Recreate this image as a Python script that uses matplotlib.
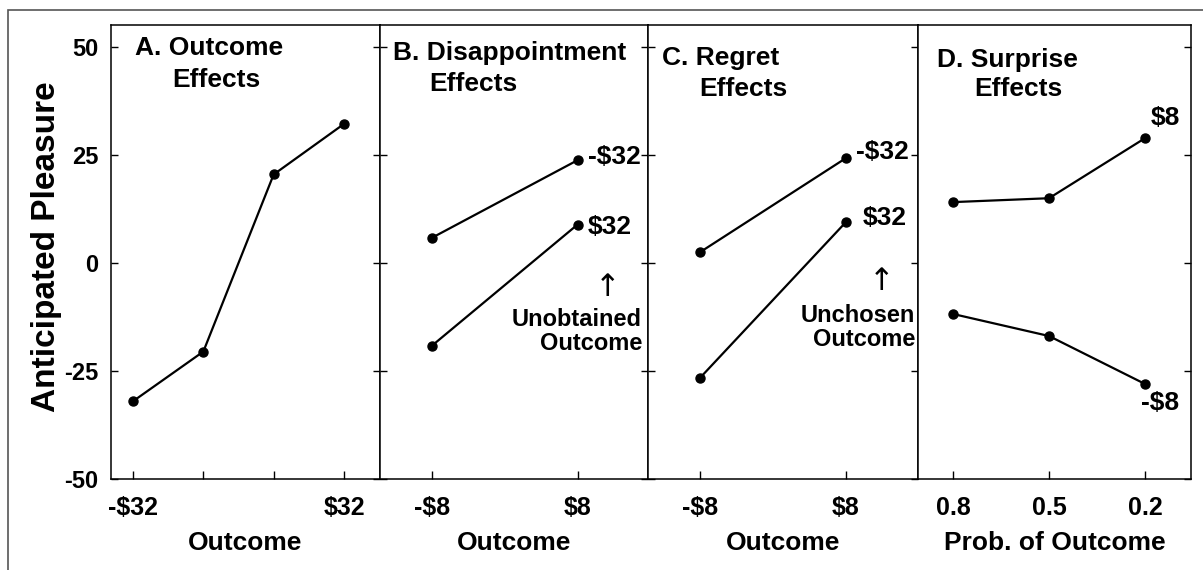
import matplotlib
matplotlib.use("Agg")
import matplotlib.pyplot as plt
from matplotlib.patches import Rectangle

plt.rcParams['font.family'] = ['Liberation Sans', 'DejaVu Sans']
plt.rcParams['font.weight'] = 'bold'
plt.rcParams['axes.unicode_minus'] = False

# Panel A: outcome effects
a_labels = ['-$32', '', '', '$32']
a_values = [-32, -20.5, 20.5, 32.2]

# Panel B: disappointment effects (unobtained outcome -$32 / $32)
b_labels = ['-$8', '$8']
b_minus32 = [5.8, 23.8]
b_plus32 = [-19.2, 8.9]

# Panel C: regret effects (unchosen outcome -$32 / $32)
c_labels = ['-$8', '$8']
c_minus32 = [2.5, 24.3]
c_plus32 = [-26.6, 9.5]

# Panel D: surprise effects
d_labels = ['0.8', '0.5', '0.2']
d_plus8 = [14.1, 15.0, 28.9]
d_minus8 = [-11.8, -16.9, -28.0]

yticks = [-50, -25, 0, 25, 50]

W, H = 1203, 570
fig = plt.figure(figsize=(W / 100, H / 100), dpi=100)

def px_axes(x0, x1, y0, y1):
    return fig.add_axes([x0 / W, 1 - y1 / H, (x1 - x0) / W, (y1 - y0) / H])

def ftext(x, y, s, ha='left', size=19, **kw):
    fig.text(x / W, 1 - y / H, s, ha=ha, va='center', fontsize=size,
             fontweight=kw.pop('weight', 'bold'), **kw)

axA = px_axes(111, 380, 25, 479)
axB = px_axes(380, 648, 25, 479)
axC = px_axes(648, 918, 25, 479)
axD = px_axes(918, 1191, 25, 479)

line_kw = dict(color='black', lw=1.6, marker='o', ms=6.5)

xa = range(len(a_values))
axA.plot(xa, a_values, **line_kw)
axA.set_xlim(-0.313, 3.512)
axA.set_xticks(list(xa))
axA.set_xticklabels(a_labels)

xb = range(len(b_labels))
axB.plot(xb, b_minus32, **line_kw)
axB.plot(xb, b_plus32, **line_kw)
axB.set_xlim(-0.354, 1.483)
axB.set_xticks(list(xb))
axB.set_xticklabels(b_labels)

xc = range(len(c_labels))
axC.plot(xc, c_minus32, **line_kw)
axC.plot(xc, c_plus32, **line_kw)
axC.set_xlim(-0.356, 1.493)
axC.set_xticks(list(xc))
axC.set_xticklabels(c_labels)

xd = range(len(d_labels))
axD.plot(xd, d_plus8, **line_kw)
axD.plot(xd, d_minus8, **line_kw)
axD.set_xlim(-0.365, 2.479)
axD.set_xticks(list(xd))
axD.set_xticklabels(d_labels)

for ax in (axA, axB, axC, axD):
    ax.set_ylim(-50, 55.1)
    ax.set_yticks(yticks)
    ax.tick_params(axis='both', direction='in', width=1, colors='black')
    ax.tick_params(axis='x', length=6, labelsize=18, pad=12)
    ax.tick_params(axis='y', length=5, labelsize=17, pad=9,
                   left=True, right=True, labelleft=False)
    for s in ax.spines.values():
        s.set_linewidth(1.1)
    ax.set_xlabel('Outcome', fontsize=19, fontweight='bold', labelpad=8)

axA.tick_params(axis='y', labelleft=True)
axD.tick_params(axis='y', left=False)
axD.set_xlabel('Prob. of Outcome', fontsize=19, fontweight='bold', labelpad=8)

# y label
ftext(46, 247, 'Anticipated Pleasure', ha='center', size=24, rotation=90)

# panel titles
ftext(209, 48, 'A. Outcome', ha='center')
ftext(216, 80, 'Effects', ha='center')
ftext(510, 53, 'B. Disappointment', ha='center')
ftext(473, 84, 'Effects', ha='center')
ftext(721, 58, 'C. Regret', ha='center')
ftext(743, 89, 'Effects', ha='center')
ftext(1007, 60, 'D. Surprise', ha='center')
ftext(1018, 89, 'Effects', ha='center')

# series labels
ftext(588, 157, '-$32')
ftext(588, 227, '$32')
ftext(608, 288, '\u2191', ha='center', size=22, weight='normal', family='DejaVu Sans')
ftext(642, 319, 'Unobtained', ha='right', size=17)
ftext(642, 343, 'Outcome', ha='right', size=17)

ftext(856, 152, '-$32')
ftext(863, 218, '$32')
ftext(882, 281, '\u2191', ha='center', size=22, weight='normal', family='DejaVu Sans')
ftext(915, 315, 'Unchosen', ha='right', size=17)
ftext(915, 339, 'Outcome', ha='right', size=17)

ftext(1151, 118, '$8')
ftext(1141, 403, '-$8')

# outer frame
fig.add_artist(Rectangle((8 / W, -0.1), 1.2, 1 - 10 / H + 0.1, transform=fig.transFigure,
                         fill=False, edgecolor='#555555', lw=1.2))

fig.savefig('out.png', dpi=100)
